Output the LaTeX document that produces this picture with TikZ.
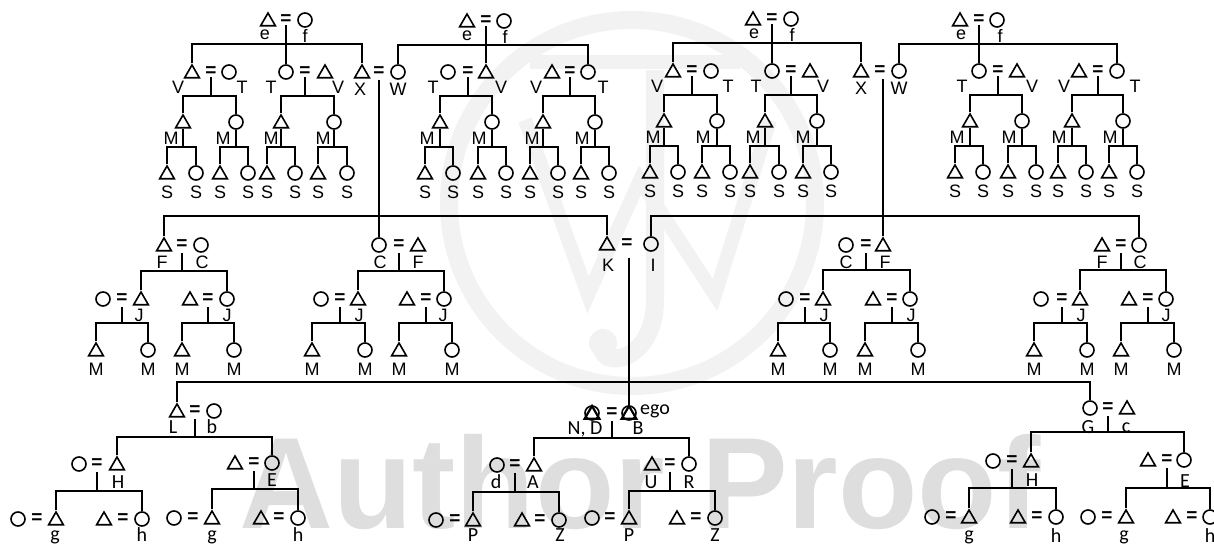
\documentclass[tikz,border=0pt]{standalone}
\usepackage{fontspec}
\setmainfont{Liberation Sans}
\newfontfamily\botfont{Carlito}
\usetikzlibrary{shapes.geometric}

\tikzset{
	tri/.style={regular polygon, regular polygon sides=3, draw, line width=1.6pt, inner sep=0pt, minimum size=17pt, yshift=-1.5pt},
	crc/.style={circle, draw, line width=1.6pt, inner sep=0pt, minimum size=14pt},
	eqs/.style={inner sep=0pt, font=\bfseries\fontsize{19}{19}\selectfont},
	lbl/.style={inner sep=0pt, anchor=base, yshift=-6.5pt, font=\fontsize{18}{18}\selectfont},
	bot/.style={inner sep=0pt, anchor=base, yshift=-6.5pt, font=\botfont\fontsize{20}{20}\selectfont},
	lin/.style={line width=1.7pt},
	wmk/.style={draw=black!5, line width=18pt},
}

\newcommand{\kinpair}[7]{
	\node[#2] (#1-l) at (#4,#7) {};
	\node[eqs] (#1-e) at (#5,#7) {=};
	\node[#3] (#1-r) at (#6,#7) {};
}
\newcommand{\kinkids}[4]{
	\node[tri] (#1a) at (#2,#4) {};
	\node[crc] (#1b) at (#3,#4) {};
}
\newcommand{\kinbar}[5][0pt]{
	\coordinate (#2-bar) at (#2.south |- 0,#3);
	\draw[lin, shorten <=#1] (#2.south) -- (#2-bar);
	\draw[lin] (#4.north) |- (#2-bar) -| (#5.north);
}

\begin{document}
\begin{tikzpicture}[x=1pt,y=-1pt]
	\useasboundingbox (0,0) rectangle (1214,543);

	\node[text=black!13, inner sep=0pt, font=\bfseries\fontsize{130}{130}\selectfont] (proof) at (640,482) {Author Proof};
	\draw[wmk] (632,203) circle (183);
	\draw[wmk, line width=14pt] (525,120) -- (588,295) -- (640,180) -- (715,295) -- (770,120);
	\draw[wmk, line width=14pt] (530,62) -- (740,62);
	\draw[wmk] (655,70) -- (655,300) .. controls (655,365) and (595,370) .. (603,343);
	\fill[black!5] (603,343) circle (14);

	% top generation
	\foreach \nm/\dy/\kl/\kr/\xl/\xe/\xr/\la/\xp/\lb/\xq/\ca/\cb/\ma/\mb/\pa/\pb/\qa/\qb in {
		va/0/tri/crc/192/211/229/V/178/T/242/183/236/171/223/167/196/220/248,
		ta/0/crc/tri/286/305/325/T/271/V/338/281/334/271/323/267/295/318/347,
		tb/0/crc/tri/448/468/486/T/433/V/501/440/492/427/479/425/453/478/506,
		vb/0/tri/crc/552/570/588/V/536/T/603/543/595/532/582/530/558/581/609,
		vc/-1/tri/crc/673/692/711/V/657/T/728/664/717/653/703/650/678/702/730,
		tc/-1/crc/tri/772/791/810/T/756/V/823/765/817/753/803/750/779/803/831,
		td/-1/crc/tri/979/998/1017/T/962/V/1032/970/1022/957/1009/955/983/1008/1036,
		vd/-1/tri/crc/1079/1098/1117/V/1064/T/1135/1072/1123/1059/1110/1058/1086/1109/1137%
	}{
		\kinpair{\nm}{\kl}{\kr}{\xl}{\xe}{\xr}{72+\dy}
		\node[lbl] (\nm-la) at (\xp,87+\dy) {\la};
		\node[lbl] (\nm-lb) at (\xq,87+\dy) {\lb};
		\kinkids{\nm-m}{\ca}{\cb}{122+\dy}
		\node[lbl] (\nm-tma) at (\ma,138+\dy) {M};
		\node[lbl] (\nm-tmb) at (\mb,138+\dy) {M};
		\kinkids{\nm-p}{\pa}{\pb}{173+\dy}
		\kinkids{\nm-q}{\qa}{\qb}{173+\dy}
		\node[lbl] (\nm-tpa) at (\pa,191.5+\dy) {S};
		\node[lbl] (\nm-tpb) at (\pb,191.5+\dy) {S};
		\node[lbl] (\nm-tqa) at (\qa,191.5+\dy) {S};
		\node[lbl] (\nm-tqb) at (\qb,191.5+\dy) {S};
		\kinbar{\nm-e}{96+\dy}{\nm-ma}{\nm-mb}
		\kinbar{\nm-ma}{147+\dy}{\nm-pa}{\nm-pb}
		\kinbar{\nm-mb}{147+\dy}{\nm-qa}{\nm-qb}
	}

	\kinpair{xa}{tri}{crc}{362}{379}{398}{72}
	\node[lbl] (xa-x) at (360,89) {X};
	\node[lbl] (xa-w) at (398,89) {W};
	\kinpair{xb}{tri}{crc}{861}{880}{899}{71}
	\node[lbl] (xb-x) at (861,88) {X};
	\node[lbl] (xb-w) at (899,88) {W};

	\foreach \nm/\xl/\xe/\xr/\yy/\xp/\xq/\yb/\dd/\la/\lb in {
		ga/268/286/305/20/265/305/44/va-l/xa-l/ta-l,
		gb/467/486/504/21/467/505/45/xa-r/vb-r/tb-r,
		gc/753/772/791/19/754/792/43/vc-l/xb-l/tc-l,
		gd/960/979/997/20/961/1000/44/xb-r/vd-r/td-l%
	}{
		\kinpair{\nm}{tri}{crc}{\xl}{\xe}{\xr}{\yy}
		\node[lbl] (\nm-el) at (\xp,\yy+13) {e};
		\node[lbl] (\nm-fl) at (\xq,\yy+16) {f};
		\kinbar{\nm-e}{\yb}{\dd}{\la}
		\draw[lin] (\nm-e-bar) -- (\lb.north);
	}

	% middle generation
	\foreach \nm/\kl/\kr/\xl/\xe/\xr/\la/\xp/\lb/\xq in {
		ca/tri/crc/164/182/201/F/162/C/202,
		cb/crc/tri/379/399/418/C/380/F/418,
		cc/crc/tri/846/866/883/C/846/F/885,
		cd/tri/crc/1102/1121/1139/F/1102/C/1140%
	}{
		\kinpair{\nm}{\kl}{\kr}{\xl}{\xe}{\xr}{245}
		\node[lbl] (\nm-la) at (\xp,262) {\la};
		\node[lbl] (\nm-lb) at (\xq,262) {\lb};
	}
	\foreach \nm/\kl/\kr/\xl/\xe/\xr/\xj/\ca/\cb in {
		ja/crc/tri/103/122/141/139/96/148,
		jb/tri/crc/190/208/227/227/182/234,
		jc/crc/tri/321/340/358/359/312/365,
		jd/tri/crc/407/426/444/443/399/452,
		je/crc/tri/786/805/823/824/778/830,
		jf/tri/crc/873/892/910/911/865/918,
		jg/crc/tri/1041/1062/1080/1081/1034/1087,
		jh/tri/crc/1129/1148/1166/1166/1121/1174%
	}{
		\kinpair{\nm}{\kl}{\kr}{\xl}{\xe}{\xr}{299}
		\node[lbl] (\nm-j) at (\xj,315) {J};
		\kinkids{\nm-k}{\ca}{\cb}{350}
		\node[lbl] (\nm-ma) at (\ca,369) {M};
		\node[lbl] (\nm-mb) at (\cb,369) {M};
		\kinbar[3pt]{\nm-e}{323}{\nm-ka}{\nm-kb}
	}
	\kinbar[3pt]{ca-e}{271}{ja-r}{jb-r}
	\kinbar[3pt]{cb-e}{271}{jc-r}{jd-r}
	\kinbar[3pt]{cc-e}{270}{je-r}{jf-r}
	\kinbar[3pt]{cd-e}{270}{jg-r}{jh-r}

	\kinpair{kk}{tri}{crc}{607}{627}{651}{244}
	\node[lbl] (kk-k) at (608,265) {K};
	\node[lbl] (kk-i) at (653,265) {I};
	\coordinate (kk-bar) at (0,216);
	\draw[lin] (ca-l.north) |- (kk-bar -| cb-l) -| (kk-l.north);
	\draw[lin] (kk-r.north) |- (kk-bar -| cc-r) -| (cd-r.north);
	\draw[lin, shorten <=3pt] (xa-e.south) -- (cb-l.north);
	\draw[lin, shorten <=3pt] (cc-r.north |- xb-e.south) -- (cc-r.north);

	% bottom generation
	\node[tri, line width=2.2pt] (eg-lt) at (592,413) {};
	\node[tri, line width=2.2pt] (eg-rt) at (629,413) {};
	\kinpair{eg}{crc}{crc}{592}{612}{629}{413}
	\node[bot] (eg-txt) at (655,408) {ego};
	\node[bot] (eg-nd) at (585,428) {N, D};
	\node[bot] (eg-bb) at (638,428) {B};
	\kinpair{ll}{tri}{crc}{177}{195}{214}{411}
	\node[bot] (ll-ll) at (173,427) {L};
	\node[bot] (ll-bb) at (212,426.5) {b};
	\kinpair{gg}{crc}{tri}{1090}{1108}{1127}{408}
	\node[bot] (gg-gg) at (1088,427) {G};
	\node[bot] (gg-cc) at (1126,425.5) {c};

	\foreach \nm/\kl/\kr/\xl/\xe/\xr/\yy/\la/\xp/\lb/\xq/\yt in {
		ha/crc/tri/79/97/117/464//118/H/118/482,
		ea/tri/crc/235/254/272/463//272/E/272/480,
		da/crc/tri/497/515/534/465/d/496/A/533/481.5,
		ua/tri/crc/652/670/689/464/U/651/R/689/482,
		hb/crc/tri/993/1012/1031/461//1032/H/1032/480,
		eb/tri/crc/1148/1167/1184/460//1185/E/1185/481%
	}{
		\kinpair{\nm}{\kl}{\kr}{\xl}{\xe}{\xr}{\yy}
		\node[bot] (\nm-la) at (\xp,\yt) {\la};
		\node[bot] (\nm-lb) at (\xq,\yt) {\lb};
	}
	\foreach \nm/\kl/\kr/\xl/\xe/\xr/\yy/\la/\xp/\yt in {
		sa/crc/tri/18/37/56/519/g/55/534,
		sb/tri/crc/104/123/142/519/h/142/535,
		sc/crc/tri/174/193/212/518/g/212/534,
		sd/tri/crc/261/279/298/518/h/298/535,
		se/crc/tri/436/455/473/520/P/473/535,
		sf/tri/crc/522/540/559/520/Z/560/535,
		sg/crc/tri/592/610/629/518/P/629/535,
		sh/tri/crc/677/696/715/518/Z/715/535,
		si/crc/tri/932/951/969/517/g/969/534,
		sj/tri/crc/1018/1037/1056/517/h/1056/536,
		sk/crc/tri/1088/1107/1126/517/g/1124/534,
		sm/tri/crc/1173/1192/1210/517/h/1210/536%
	}{
		\kinpair{\nm}{\kl}{\kr}{\xl}{\xe}{\xr}{\yy}
		\node[bot] (\nm-la) at (\xp,\yt) {\la};
	}

	\kinbar[3pt]{ll-e}{437}{ha-r}{ea-r}
	\kinbar[3pt]{eg-e}{438}{da-r}{ua-r}
	\kinbar[3pt]{gg-e}{432}{hb-r}{eb-r}
	\kinbar[3pt]{ha-e}{491}{sa-r}{sb-r}
	\kinbar[3pt]{ea-e}{489}{sc-r}{sd-r}
	\kinbar[3pt]{da-e}{492}{se-r}{sf-r}
	\kinbar[3pt]{ua-e}{491}{sg-r}{sh-r}
	\kinbar[3pt]{hb-e}{488}{si-r}{sj-r}
	\kinbar[3pt]{eb-e}{488}{sk-r}{sm-r}

	\coordinate (ll-top) at (0,382);
	\draw[lin] (ll-l.north) |- (ll-top -| eg-r) -| (gg-l.north);
	\draw[lin, shorten <=9pt] (eg-r.north |- kk-e.south) -- (eg-r.north);
\end{tikzpicture}
\end{document}
